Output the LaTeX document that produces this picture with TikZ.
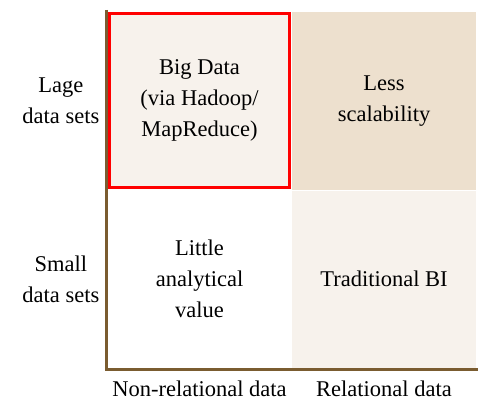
\documentclass[tikz,border=0pt]{standalone}
\usepackage{fontspec}
\setmainfont{Liberation Serif}
\usepackage{xcolor}
\usepackage{tikz}
\usetikzlibrary{positioning}
\definecolor{paleTan}{HTML}{F7F2EC}
\definecolor{sandTan}{HTML}{EDE0CE}
\definecolor{axisBrown}{HTML}{7A5C30}

\begin{document}
\begin{tikzpicture}[
  x=1pt, y=-1pt,
  every node/.style={font=\fontsize{22.5}{31}\selectfont},
  quad/.style={minimum width=184pt, minimum height=177pt, align=center,
               inner sep=0pt, outer sep=0pt},
  axislabel/.style={align=center, inner sep=0pt},
]
  \useasboundingbox (0,0) rectangle (478,401);

  % Quadrants (fill only)
  \node[quad, fill=sandTan] (tr) at (384,101) {Less\\scalability};
  \node[quad, fill=paleTan] (br) at (384,279) {Traditional BI};
  \node[quad] (bl) at (199.5,279) {Little\\analytical\\value};

  % Axes
  \coordinate (top) at (106.5,10);
  \coordinate (origin) at (106.5,369.5);
  \coordinate (xend) at (478,369.5);
  \draw[axisBrown, line width=3pt] (top) -- (origin) -- (xend);

  % Highlighted quadrant
  \node[quad, fill=paleTan, draw=red, line width=3pt,
        minimum width=180pt, minimum height=173pt]
    (tl) at (199.5,100.5) {Big Data\\(via Hadoop/\\MapReduce)};

  % Axis labels
  \node[axislabel, left=10pt of tl] (large) {Lage\\data sets};
  \node[axislabel, left=8pt of bl] (small) {Small\\data sets};
  \node[axislabel, below=13pt of bl] (nonrel) {Non-relational data};
  \node[axislabel, below=13pt of br] (rel) {Relational data};
\end{tikzpicture}
\end{document}
